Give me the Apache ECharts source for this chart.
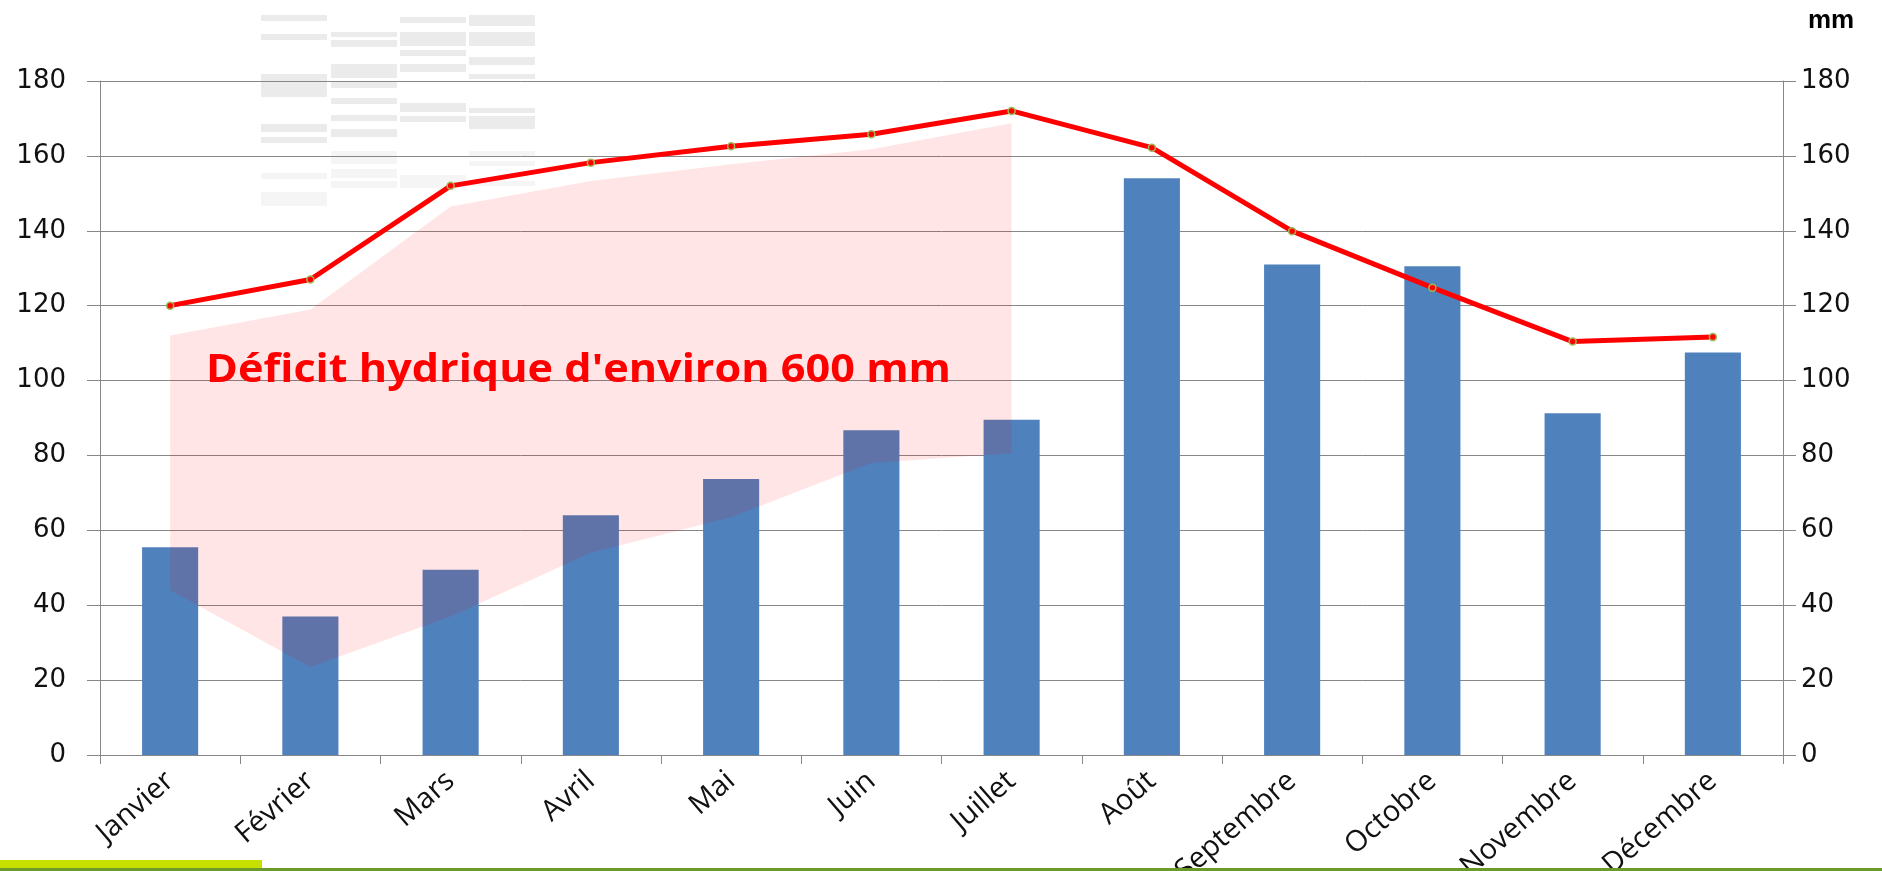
<!DOCTYPE html>
<html>
<head>
<meta charset="utf-8">
<title>Déficit hydrique</title>
<script src="https://cdn.jsdelivr.net/npm/echarts@6/dist/echarts.min.js"></script>
<style>
  html, body { margin: 0; padding: 0; background: #fff; }
  #chart { width: 1882px; height: 871px; }
</style>
</head>
<body>
<div id="chart"></div>
<script>
// mois
const months = ["Janvier", "Février", "Mars", "Avril", "Mai", "Juin", "Juillet",
  "Août", "Septembre", "Octobre", "Novembre", "Décembre"];
// précipitations (barres)
const rainValues = [55.5, 37, 49.5, 64, 73.7, 86.7, 89.5, 154, 131, 130.5, 91.3, 107.5];
// courbe rouge
const etpValues = [120, 127, 152, 158.2, 162.6, 165.8, 172, 162.2, 139.9, 124.8, 110.4, 111.6];
// zone rose du déficit (janvier -> juillet)
const deficitTop = [112, 119, 146.5, 153.3, 157.8, 161.8, 168.7];
const deficitBottom = [44, 23.5, 37, 54, 63.5, 78, 80.6];
// graduations
const axisMin = 0;
const axisMax = 180;
const axisStep = 20;

const chart = echarts.init(document.getElementById("chart"));

const gray = "#878787";

// bandes grises très pâles (tableau fantôme en haut à gauche)
const ghostRows = [
  [261, 15, 6], [261, 34, 6], [261, 74, 23], [261, 124, 8], [261, 137, 6], [261, 173, 6], [261, 192, 14],
  [331, 32, 5], [331, 40, 7], [331, 64, 14], [331, 82, 6], [331, 98, 6], [331, 115, 6], [331, 129, 8], [331, 151, 13], [331, 169, 9], [331, 181, 7],
  [400, 17, 6], [400, 32, 14], [400, 50, 6], [400, 64, 8], [400, 103, 9], [400, 116, 6], [400, 175, 13],
  [469, 15, 11], [469, 32, 14], [469, 57, 8], [469, 74, 5], [469, 108, 5], [469, 116, 13], [469, 151, 6], [469, 161, 5], [469, 181, 5]
];
const ghostGraphics = ghostRows.map((r) => {
  return {
    type: "rect",
    z: -10,
    shape: { x: r[0], y: r[1], width: 66, height: r[2] },
    style: { fill: r[1] > 145 ? "#f5f5f5" : "#ebebeb" },
    silent: true,
  };
});

let initOption = {
  animation: false,
  textStyle: { fontFamily: "DejaVu Sans" },
  grid: {
    left: 100,
    right: 99,
    top: 81,
    bottom: 116,
    containLabel: false,
    outerBoundsMode: "none", // les étiquettes peuvent déborder en bas
  },
  xAxis: {
    type: "category",
    data: months,
    boundaryGap: true,
    axisLine: { lineStyle: { color: gray, width: 1 } },
    axisTick: { show: true, length: 9, lineStyle: { color: gray } },
    axisLabel: {
      rotate: 41,
      margin: 22,
      color: "#111",
      fontSize: 29,
      fontFamily: "Open Sans",
      interval: 0,
    },
  },
  yAxis: [
    {
      type: "value",
      position: "left",
      min: axisMin,
      max: axisMax,
      interval: axisStep,
      axisLine: { show: true, lineStyle: { color: gray } },
      axisTick: { show: true, length: 13, lineStyle: { color: gray } },
      axisLabel: { margin: 34, color: "#111", fontSize: 26 },
      splitLine: { show: true, lineStyle: { color: gray, width: 1 } },
    },
    {
      type: "value",
      position: "right",
      min: axisMin,
      max: axisMax,
      interval: axisStep,
      axisLine: { show: true, lineStyle: { color: gray } },
      axisTick: { show: true, length: 13, lineStyle: { color: gray } },
      axisLabel: { margin: 18, color: "#111", fontSize: 26 },
      splitLine: { show: false },
    },
  ],
  series: [
    {
      name: "Précipitations",
      type: "bar",
      data: rainValues,
      barWidth: "40%",
      itemStyle: { color: "#4f81bd" },
      z: 2,
    },
    {
      // base invisible de la zone
      name: "base",
      type: "line",
      stack: "deficit",
      data: deficitBottom,
      symbol: "none",
      lineStyle: { width: 0, opacity: 0 },
      silent: true,
      z: 3,
    },
    {
      name: "Déficit",
      type: "line",
      stack: "deficit",
      data: deficitTop.map((v, i) => v - deficitBottom[i]),
      symbol: "none",
      lineStyle: { width: 0, opacity: 0 },
      areaStyle: { color: "rgba(255, 0, 0, 0.1)", opacity: 1 },
      silent: true,
      z: 3,
    },
    {
      name: "ETP",
      type: "line",
      data: etpValues,
      symbol: "circle",
      symbolSize: 7,
      lineStyle: { color: "#ff0000", width: 5 },
      itemStyle: { color: "#ff0000", borderColor: "#9bbb59", borderWidth: 1.5 },
      z: 5,
    },
  ],
  graphic: ghostGraphics.concat([
    {
      type: "text",
      x: 206,
      y: 351,
      scaleX: 1.08,
      z: 10,
      style: {
        text: "Déficit hydrique d'environ 600 mm",
        fill: "#ff0000",
        font: "bold 40px 'Open Sans'",
      },
    },
    {
      type: "text",
      left: 1808,
      top: 8,
      z: 10,
      style: {
        text: "mm",
        fill: "#000",
        font: "bold 26px 'Liberation Sans'",
      },
    },
    {
      // liseré vert du bas
      type: "rect",
      z: 10,
      shape: { x: 0, y: 868, width: 1882, height: 3 },
      style: { fill: "#6b9a2b" },
    },
    {
      type: "rect",
      z: 10,
      shape: { x: 0, y: 860, width: 262, height: 8 },
      style: { fill: "#c6de00" },
    },
  ]),
};

chart.setOption(initOption);
</script>
</body>
</html>
